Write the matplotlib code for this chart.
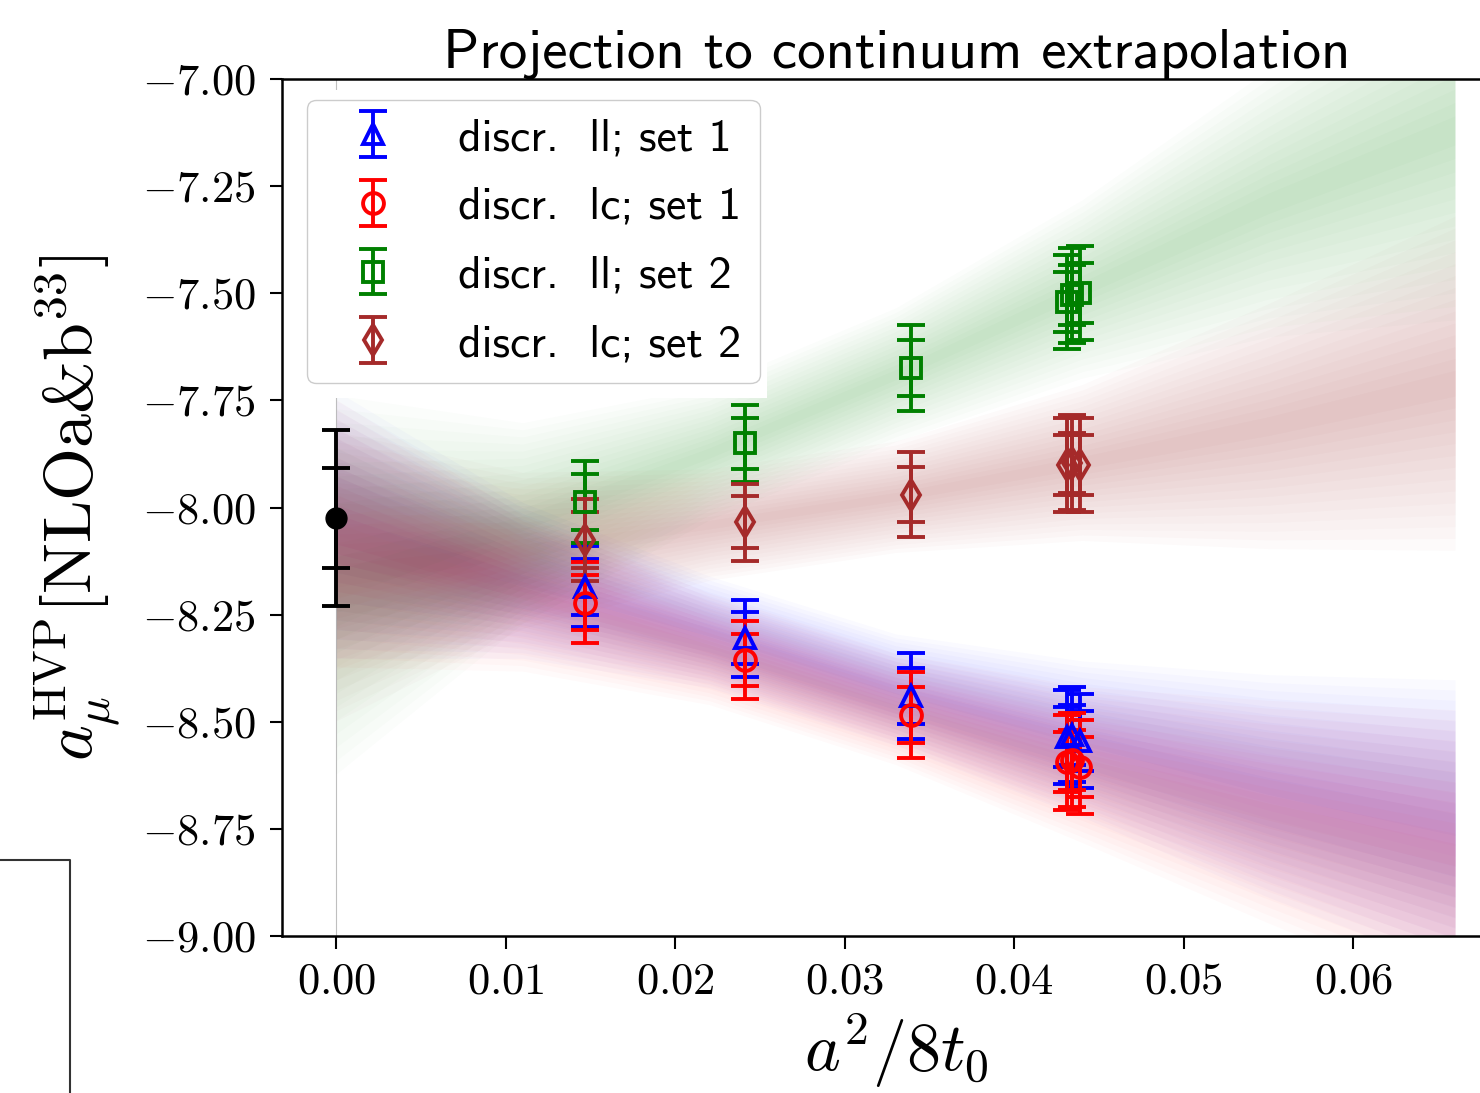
import matplotlib
matplotlib.use("Agg")
import matplotlib.pyplot as plt
import numpy as np
from matplotlib.lines import Line2D
from matplotlib.patches import Rectangle
from matplotlib.ticker import FuncFormatter, MultipleLocator

plt.rcParams['mathtext.fontset'] = 'cm'
plt.rcParams['font.family'] = 'serif'
plt.rcParams['font.serif'] = ['cmr10', 'DejaVu Serif']
plt.rcParams['axes.unicode_minus'] = False

# data points (a^2/8t0)
xs = [0.0147, 0.0241, 0.0339, 0.0431, 0.0434, 0.0439]
ll_set1 = [-8.185, -8.305, -8.440, -8.535, -8.530, -8.545]
lc_set1 = [-8.222, -8.356, -8.485, -8.595, -8.590, -8.605]
ll_set2 = [-7.987, -7.850, -7.675, -7.520, -7.505, -7.500]
lc_set2 = [-8.076, -8.034, -7.970, -7.900, -7.895, -7.900]
err_tot = [0.095, 0.090, 0.100, 0.110, 0.110, 0.110]
err_stat = [0.065, 0.060, 0.065, 0.070, 0.070, 0.070]

# continuum result
cont_x = 0.0
cont_y = -8.025
cont_err_tot = 0.205
cont_err_stat = 0.117

# fit bands: centre and half width at a few nodes
band_x = [0.0, 0.011, 0.022, 0.033, 0.044, 0.055, 0.066]
band_ll1 = [-8.04, -8.17, -8.29, -8.425, -8.54, -8.65, -8.74]
band_ll1_w = [0.12, 0.07, 0.05, 0.05, 0.07, 0.10, 0.13]
band_lc1 = [-8.06, -8.20, -8.33, -8.47, -8.60, -8.71, -8.81]
band_lc1_w = [0.12, 0.07, 0.05, 0.05, 0.07, 0.10, 0.13]
band_ll2 = [-8.18, -8.036, -7.873, -7.69, -7.49, -7.29, -7.12]
band_ll2_w = [0.17, 0.09, 0.06, 0.06, 0.08, 0.12, 0.17]
band_lc2 = [-8.16, -8.10, -8.04, -7.975, -7.895, -7.81, -7.71]
band_lc2_w = [0.13, 0.07, 0.05, 0.05, 0.07, 0.11, 0.15]

labels = ['discr.  ll; set 1', 'discr.  lc; set 1', 'discr.  ll; set 2', 'discr.  lc; set 2']
colors = ['blue', 'red', 'green', 'brown']
markers = ['^', 'o', 's', 'd']

fig = plt.figure(figsize=(14.8, 10.93), dpi=100)
ax = fig.add_axes([282/1480, 157/1093, 1229/1480, 857/1093])

bx = np.array(band_x)
bands = [(band_ll1, band_ll1_w), (band_lc1, band_lc1_w), (band_ll2, band_ll2_w), (band_lc2, band_lc2_w)]
band_alpha = [0.019, 0.019, 0.016, 0.018]
for (c, w), col, al in zip(bands, colors, band_alpha):
    c = np.array(c)
    w = np.array(w)
    for f in np.linspace(0.2, 2.6, 14):
        ax.fill_between(bx, c - f * w, c + f * w, color=col, alpha=al, lw=0, zorder=1)

ax.axvline(0, color='gray', lw=0.8, alpha=0.5, zorder=1)

# white patch around the legend
ax.add_patch(Rectangle((0, 0.628), 0.395, 0.359, transform=ax.transAxes,
                       facecolor='white', edgecolor='none', zorder=2))

series = [ll_set1, lc_set1, ll_set2, lc_set2]
handles = []
for ys, col, mk, lab in zip(series, colors, markers, labels):
    h = ax.errorbar(xs, ys, yerr=err_tot, fmt=mk, color=col, mfc='none', mec=col,
                    ms=15, mew=2.8, elinewidth=2.8, capsize=10, capthick=2.8, zorder=3, label=lab)
    ax.errorbar(xs, ys, yerr=err_stat, fmt='none', ecolor=col,
                elinewidth=2.8, capsize=10, capthick=2.8, zorder=3)
    handles.append(h)

ax.errorbar([cont_x], [cont_y], yerr=[cont_err_tot], fmt='o', color='black', ms=15,
            elinewidth=2.8, capsize=10, capthick=2.8, zorder=4)
ax.errorbar([cont_x], [cont_y], yerr=[cont_err_stat], fmt='none', ecolor='black',
            elinewidth=2.8, capsize=10, capthick=2.8, zorder=4)

ax.set_xlim(-0.0032, 0.0693)
ax.set_ylim(-9.0, -7.0)
ax.xaxis.set_major_locator(MultipleLocator(0.01))
ax.yaxis.set_major_locator(MultipleLocator(0.25))
ax.xaxis.set_major_formatter(FuncFormatter(lambda v, p: f'${v:.2f}$'))
ax.yaxis.set_major_formatter(FuncFormatter(lambda v, p: f'${v:.2f}$'))
ax.tick_params(labelsize=32, length=9, width=1.5, pad=10)
for s in ax.spines.values():
    s.set_linewidth(1.8)

ax.set_title('Projection to continuum extrapolation', fontsize=41, pad=8, family='cmss10')
ax.set_xlabel(r'$a^2/8t_0$', fontsize=49, labelpad=6)
ax.set_ylabel(r'$a_\mu^{\rm HVP}[\mathrm{NLOa}$&$\mathrm{b}^{33}]$', fontsize=49, labelpad=14)

leg = ax.legend(handles=handles, loc='upper left', bbox_to_anchor=(0.0203, 0.9755),
                borderaxespad=0, prop={'family': 'cmss10', 'size': 33},
                handletextpad=0.8, labelspacing=0.6, handlelength=2.1,
                fancybox=True, framealpha=1.0, edgecolor='#cccccc')
leg.set_zorder(5)

# stray frame in lower-left corner
fig.add_artist(Line2D([0, 70/1480, 70/1480], [1 - 860/1093, 1 - 860/1093, 0],
                      color='#333333', lw=1.5))

fig.savefig('out.png', dpi=100)
